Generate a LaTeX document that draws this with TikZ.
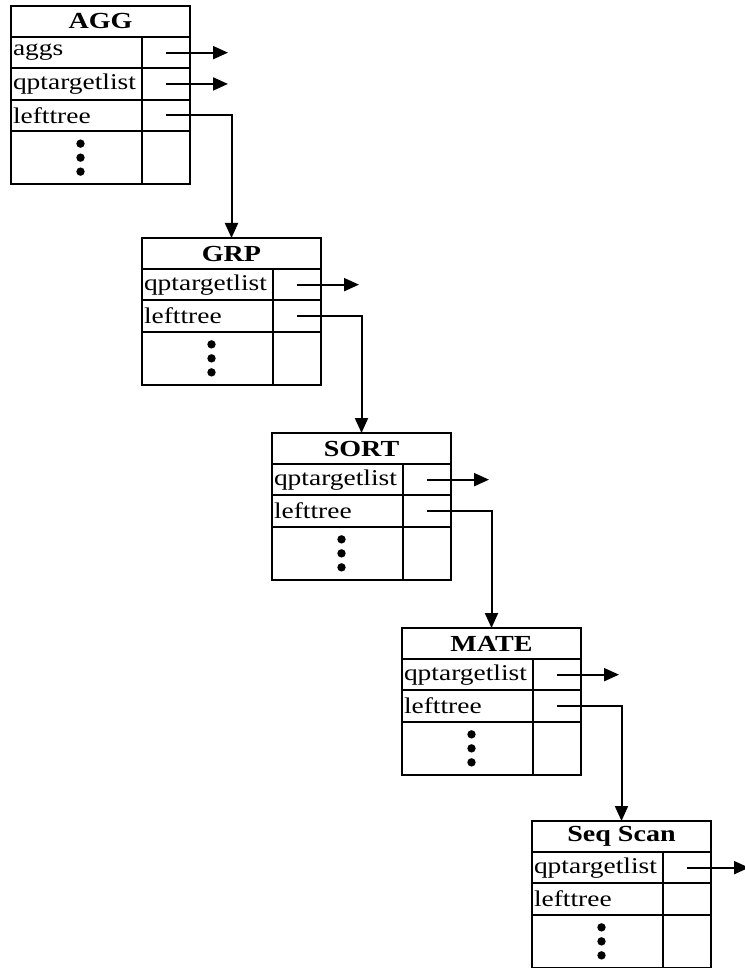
\documentclass[tikz,border=0pt]{standalone}
\usepackage{fontspec}
\setmainfont{Liberation Serif}[FakeStretch=1.22]
\usetikzlibrary{arrows.meta}

\tikzset{
  hdr/.style={draw, line width=2pt, outer sep=0pt, anchor=north west, minimum width=179pt, minimum height=31pt, inner sep=0pt, font=\fontsize{23}{23}\selectfont\bfseries},
  fld/.style={draw, line width=2pt, outer sep=0pt, anchor=north west, minimum width=131pt, minimum height=31.3pt, inner sep=2pt, text width=127pt, align=left, font=\fontsize{22.5}{22.5}\selectfont},
  ptrfld/.style={draw, line width=2pt, outer sep=0pt, anchor=north west, minimum width=48pt, minimum height=31.3pt, inner sep=0pt},
  dotfld/.style={fld, minimum height=53.5pt},
  dotptr/.style={ptrfld, minimum height=53.5pt},
  link/.style={line width=2pt, -{Triangle[length=15pt,width=13pt]}},
}

\begin{document}
\begin{tikzpicture}[x=1pt,y=-1pt]
\useasboundingbox (0,0) rectangle (744,968);
% AGG
\node[hdr] (agg) at (11,6) {AGG};
\node[fld] (agg-aggs) at (agg.south west) {aggs};
\node[ptrfld] (agg-aggs-p) at (agg-aggs.north east) {};
\node[fld] (agg-qpt) at (agg-aggs.south west) {qptargetlist};
\node[ptrfld] (agg-qpt-p) at (agg-qpt.north east) {};
\node[fld] (agg-lt) at (agg-qpt.south west) {lefttree};
\node[ptrfld] (agg-lt-p) at (agg-lt.north east) {};
\node[dotfld] (agg-more) at (agg-lt.south west) {};
\node[dotptr] (agg-more-p) at (agg-more.north east) {};
% GRP
\node[hdr] (grp) at (142,238) {GRP};
\node[fld] (grp-qpt) at (grp.south west) {qptargetlist};
\node[ptrfld] (grp-qpt-p) at (grp-qpt.north east) {};
\node[fld] (grp-lt) at (grp-qpt.south west) {lefttree};
\node[ptrfld] (grp-lt-p) at (grp-lt.north east) {};
\node[dotfld] (grp-more) at (grp-lt.south west) {};
\node[dotptr] (grp-more-p) at (grp-more.north east) {};
% SORT
\node[hdr] (sort) at (272,433) {SORT};
\node[fld] (sort-qpt) at (sort.south west) {qptargetlist};
\node[ptrfld] (sort-qpt-p) at (sort-qpt.north east) {};
\node[fld] (sort-lt) at (sort-qpt.south west) {lefttree};
\node[ptrfld] (sort-lt-p) at (sort-lt.north east) {};
\node[dotfld] (sort-more) at (sort-lt.south west) {};
\node[dotptr] (sort-more-p) at (sort-more.north east) {};
% MATE
\node[hdr] (mate) at (402,628) {MATE};
\node[fld] (mate-qpt) at (mate.south west) {qptargetlist};
\node[ptrfld] (mate-qpt-p) at (mate-qpt.north east) {};
\node[fld] (mate-lt) at (mate-qpt.south west) {lefttree};
\node[ptrfld] (mate-lt-p) at (mate-lt.north east) {};
\node[dotfld] (mate-more) at (mate-lt.south west) {};
\node[dotptr] (mate-more-p) at (mate-more.north east) {};
% Seq Scan
\node[hdr] (scan) at (532,821) {Seq Scan};
\node[fld] (scan-qpt) at (scan.south west) {qptargetlist};
\node[ptrfld] (scan-qpt-p) at (scan-qpt.north east) {};
\node[fld] (scan-lt) at (scan-qpt.south west) {lefttree};
\node[ptrfld] (scan-lt-p) at (scan-lt.north east) {};
\node[dotfld] (scan-more) at (scan-lt.south west) {};
\node[dotptr] (scan-more-p) at (scan-more.north east) {};

% vertical dots in the last row of every box
\foreach \n in {agg,grp,sort,mate,scan}
  \foreach \dy in {-14,0,14}
    \fill ([xshift=4pt,yshift=\dy pt]\n-more.center) circle (4.2pt);

% pointers going off to the right
\foreach \n/\f in {agg/aggs,agg/qpt,grp/qpt,sort/qpt,mate/qpt,scan/qpt}{
  \coordinate (\n-\f-to) at ([xshift=62pt]\n-\f-p.center);
  \draw[link] (\n-\f-p.center) -- (\n-\f-to);
}

% lefttree links
\draw[link] (agg-lt-p.center) -| (grp.north);
\draw[link] (grp-lt-p.center) -| (sort.north);
\draw[link] (sort-lt-p.center) -| (mate.north);
\draw[link] (mate-lt-p.center) -| (scan.north);
\end{tikzpicture}
\end{document}
